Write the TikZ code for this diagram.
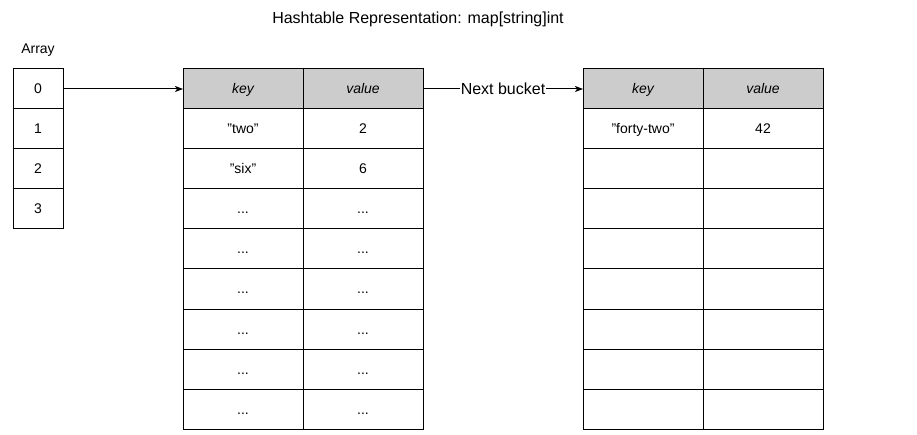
\documentclass[tikz,border=0pt]{standalone}
\usepackage{fontspec}
\setmainfont{Liberation Sans}
\usetikzlibrary{arrows.meta}
\newcommand\elided{...}
\newcommand\strlit[1]{\symbol{34}#1\symbol{34}}
\begin{document}
\begin{tikzpicture}[x=1pt,y=-1pt,
  base/.style={draw, line width=1pt, inner sep=0pt, outer sep=0pt,
    anchor=north west, text height=10pt, text depth=0pt,
    font=\fontsize{14}{16}\selectfont},
  acell/.style={base, minimum width=50pt, minimum height=40pt},
  tcell/.style={base, minimum width=120pt, minimum height=40pt},
  hcell/.style={tcell, fill=black!20, font=\fontsize{14}{16}\selectfont\itshape},
  link/.style={line width=1pt, -{Stealth[length=8pt,width=6pt,inset=2pt]}},
  plain/.style={inner sep=0pt, font=\fontsize{14}{16}\selectfont}
]
\useasboundingbox (0,0) rectangle (917,435);

% title and caption
\node[plain, font=\fontsize{16}{18}\selectfont] (title) at (418,19) {Hashtable Representation: map[string]int};
\node[plain] (arraylbl) at (38,50) {Array};

% array slots
\foreach \i in {0,1,2,3}
  \node[acell] (a\i) at (13,{69+40*\i}) {\i};

% first bucket
\node[hcell] (b1k) at (183,69) {key};
\node[hcell] (b1v) at (303,69) {value};
\foreach \r/\k/\v in {1/\strlit{two}/2, 2/\strlit{six}/6, 3/\elided/\elided, 4/\elided/\elided,
    5/\elided/\elided, 6/\elided/\elided, 7/\elided/\elided, 8/\elided/\elided} {
  \node[tcell] (b1k\r) at (183,{69+40*\r}) {\k};
  \node[tcell] (b1v\r) at (303,{69+40*\r}) {\v};
}

% overflow bucket
\node[hcell] (b2k) at (583,69) {key};
\node[hcell] (b2v) at (703,69) {value};
\node[tcell] (b2k1) at (583,109) {\strlit{forty-two}};
\node[tcell] (b2v1) at (703,109) {42};
\foreach \r in {2,3,4,5,6,7,8} {
  \node[tcell] (b2k\r) at (583,{69+40*\r}) {};
  \node[tcell] (b2v\r) at (703,{69+40*\r}) {};
}

% pointers
\draw[link] (a0.east) -- (b1k.west);
\draw[link] (b1v.east) -- node[fill=white, inner sep=1pt, font=\fontsize{16}{18}\selectfont] (nextlbl) {Next bucket} (b2k.west);
\end{tikzpicture}
\end{document}
